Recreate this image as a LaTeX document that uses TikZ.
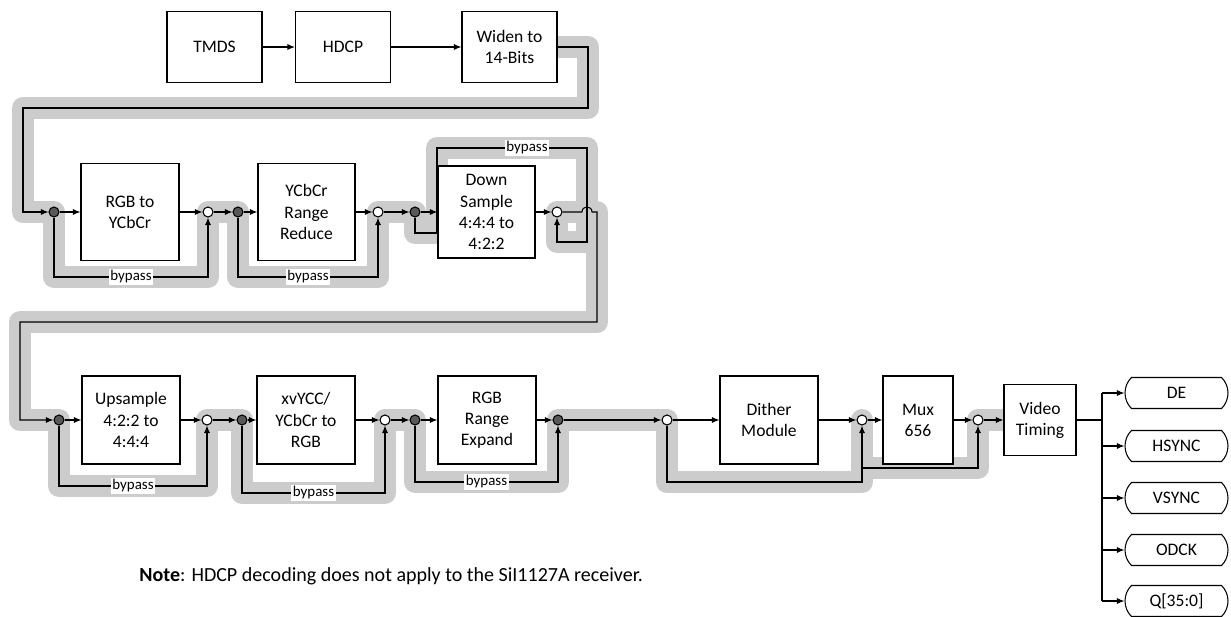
\documentclass[tikz,border=0pt]{standalone}
\usepackage{fontspec}
\setmainfont{Carlito}
\usepackage{tikz}
\usetikzlibrary{arrows.meta}
\usetikzlibrary{shapes.misc}
\newcommand{\blkfont}{\fontsize{10}{12}\selectfont}
\newcommand{\lblfont}{\fontsize{8.5}{10}\selectfont}
\newcommand{\notefont}{\fontsize{11.4}{13.6}\selectfont}
\tikzset{blk/.style={draw, fill=white, align=center, inner sep=0pt, font=\blkfont}}
\tikzset{dotf/.style={circle, draw, fill=black!65, inner sep=0pt, minimum size=0.2cm}}
\tikzset{doto/.style={circle, draw, fill=white, inner sep=0pt, minimum size=0.2cm}}
\tikzset{lbl/.style={fill=white, inner sep=0.8pt, font=\lblfont}}
\tikzset{outp/.style={rounded rectangle, rounded rectangle arc length=90, draw, fill=white, minimum width=2.06cm, minimum height=0.62cm, inner sep=0pt, font=\blkfont}}
\tikzset{hilite/.style={draw=black!20, line width=0.44cm, line join=round, line cap=round}}
\begin{document}
\begin{tikzpicture}[x=0.02cm, y=-0.02cm, line width=0.6pt, >={Latex[length=1.5mm,width=1.2mm]}]
\useasboundingbox (0,0) rectangle (1231,617);
% selected path
\draw[hilite] (557,47) -- (588,47) -- (588,108) -- (23,108) -- (23,212) -- (54,212) -- (54,277) -- (208,277) -- (208,212) -- (238,212) -- (238,277) -- (378,277) -- (378,212) -- (415,212) -- (415,233) -- (437,233) -- (437,148) -- (587,148) -- (587,242) -- (557,242) -- (557,212) -- (597,212) -- (597,322) -- (20,322) -- (20,420) -- (59,420) -- (59,486) -- (207,486) -- (207,420) -- (242,420) -- (242,493) -- (385,493) -- (385,420) -- (415,420) -- (415,482) -- (558,482) -- (558,420) -- (667,420) -- (667,482) -- (862,482) -- (862,420);
\draw[hilite] (862,468) -- (978,468) -- (978,420) -- (1004,420);

\node[blk, minimum width=1.9cm, minimum height=1.42cm] (tmds) at (214.5,47) {TMDS};
\node[blk, minimum width=1.9cm, minimum height=1.42cm] (hdcp) at (343,47) {HDCP};
\node[blk, minimum width=1.9cm, minimum height=1.42cm] (widen) at (509.5,47) {Widen to\\14-Bits};

\node[blk, minimum width=1.96cm, minimum height=1.94cm] (rgb2ycc) at (130,212) {RGB to\\YCbCr};
\node[blk, minimum width=1.94cm, minimum height=1.94cm] (rangered) at (306.5,212) {YCbCr\\Range\\Reduce};
\node[blk, minimum width=1.94cm, minimum height=1.84cm] (downsmp) at (486.5,212) {Down\\Sample\\4:4:4 to\\4:2:2};
\node[dotf] (d1) at (54,212) {};
\node[doto] (c1) at (208,212) {};
\node[dotf] (d2) at (238,212) {};
\node[doto] (c2) at (378,212) {};
\node[dotf] (d3) at (415,212) {};
\node[doto] (c3) at (557,212) {};

\node[blk, minimum width=1.96cm, minimum height=1.76cm] (upsmp) at (131,420) {Upsample\\4:2:2 to\\4:4:4};
\node[blk, minimum width=1.96cm, minimum height=1.76cm] (xvycc) at (306,420) {xvYCC/\\YCbCr to\\RGB};
\node[blk, minimum width=1.96cm, minimum height=1.76cm] (rgbexp) at (487,420) {RGB\\Range\\Expand};
\node[blk, minimum width=1.96cm, minimum height=1.76cm] (dither) at (769,420) {Dither\\Module};
\node[blk, minimum width=1.4cm, minimum height=1.76cm] (mux) at (918,420) {Mux\\656};
\node[blk, minimum width=1.44cm, minimum height=1.42cm] (vtim) at (1040,420) {Video\\Timing};
\node[dotf] (d4) at (59,420) {};
\node[doto] (c4) at (207,420) {};
\node[dotf] (d5) at (242,420) {};
\node[doto] (c5) at (385,420) {};
\node[dotf] (d6) at (415,420) {};
\node[dotf] (d7) at (558,420) {};
\node[doto] (c6) at (667,420) {};
\node[doto] (c7) at (862,420) {};
\node[doto] (c8) at (978,420) {};

\node[outp] (de) at (1176.5,393) {DE};
\node[outp] (hsync) at (1176.5,446) {HSYNC};
\node[outp] (vsync) at (1176.5,498) {VSYNC};
\node[outp] (odck) at (1176.5,550) {ODCK};
\node[outp] (q) at (1176.5,601) {Q[35:0]};

\node[anchor=west, font=\notefont] (note) at (133,576) {\textbf{Note}: HDCP decoding does not apply to the SiI1127A receiver.};

% top row
\coordinate (k1) at (588,108);
\coordinate (k2) at (23,108);
\draw[->] (tmds) -- (hdcp);
\draw[->] (hdcp) -- (widen);
\draw[->] (widen) -| (k1) -- (k2) |- (d1);

% second row
\foreach \a/\b in {d1/rgb2ycc, rgb2ycc/c1, c1/d2, d2/rangered, rangered/c2, c2/d3, d3/downsmp, downsmp/c3}
  \draw[->] (\a) -- (\b);
\draw[->] (d1) -- ++(0,65) -| node[lbl, pos=0.25] {bypass} (c1);
\draw[->] (d2) -- ++(0,65) -| node[lbl, pos=0.25] {bypass} (c2);
\draw[->] (d3) -- ++(0,21) -- ++(22,0) -- ++(0,-85) -- node[lbl, pos=0.6] {bypass} ++(150,0) -- ++(0,94) -| (c3);
\coordinate (k3) at (597,322);
\coordinate (k4) at (20,322);
\draw[->] (c3) -- (582,212) .. controls (582,205.3) and (592,205.3) .. (592,212) -| (k3) -- (k4) |- (d4);

% third row
\foreach \a/\b in {d4/upsmp, upsmp/c4, c4/d5, d5/xvycc, xvycc/c5, c5/d6, d6/rgbexp, rgbexp/d7, d7/c6, c6/dither, dither/c7, c7/mux, mux/c8, c8/vtim}
  \draw[->] (\a) -- (\b);
\draw[->] (d4) -- ++(0,66) -| node[lbl, pos=0.25] {bypass} (c4);
\draw[->] (d5) -- ++(0,73) -| node[lbl, pos=0.25] {bypass} (c5);
\draw[->] (d6) -- ++(0,62) -| node[lbl, pos=0.25] {bypass} (d7);
\draw[->] (c6) -- ++(0,62) -| (c7);
\coordinate (m1) at (862,468);
\draw[->] (m1) -| (c8);

% outputs
\coordinate (bus) at (1102,420);
\draw (vtim) -- (bus);
\draw (bus |- de) -- (bus |- q);
\foreach \o in {de,hsync,vsync,odck,q}
  \draw[->] (bus |- \o) -- (\o);
\end{tikzpicture}
\end{document}
